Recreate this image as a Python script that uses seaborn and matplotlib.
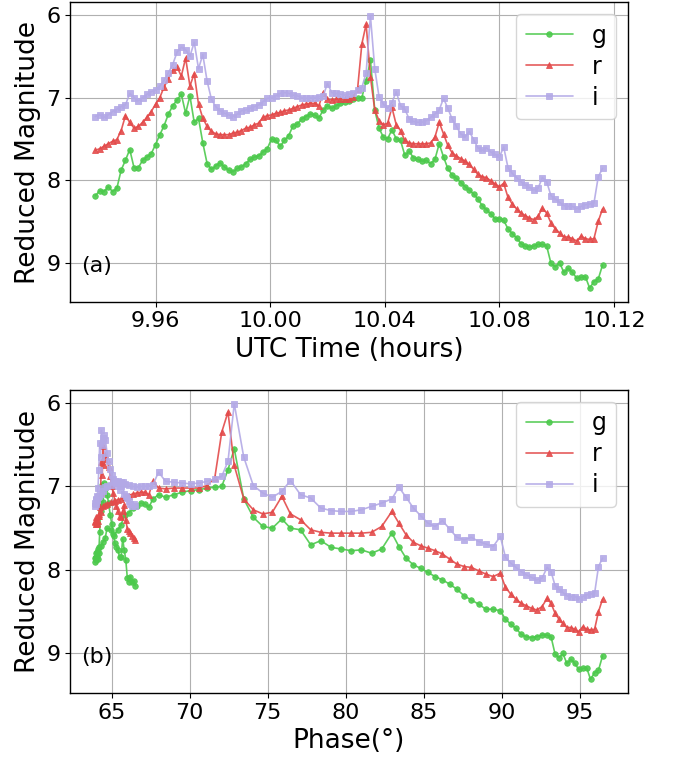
import matplotlib
matplotlib.use("Agg")
import matplotlib.pyplot as plt
import seaborn as sns
import pandas as pd
from matplotlib.ticker import FormatStrFormatter

sns.set_style("ticks")
plt.rcParams["font.family"] = ["DejaVu Sans"]
plt.rcParams["text.color"] = "black"
plt.rcParams["axes.labelcolor"] = "black"
plt.rcParams["xtick.color"] = "black"
plt.rcParams["ytick.color"] = "black"
plt.rcParams["axes.edgecolor"] = "black"

# UTC time (hours)
time_h = [
    9.9390, 9.9405, 9.9420, 9.9435, 9.9450, 9.9465, 9.9480, 9.9495, 9.9510, 9.9525,
    9.9540, 9.9555, 9.9570, 9.9585, 9.9600, 9.9615, 9.9630, 9.9645, 9.9660, 9.9675,
    9.9690, 9.9705, 9.9720, 9.9735, 9.9750, 9.9765, 9.9780, 9.9795, 9.9810, 9.9825,
    9.9840, 9.9855, 9.9870, 9.9885, 9.9900, 9.9915, 9.9930, 9.9945, 9.9960, 9.9975,
    9.9990, 10.0005, 10.0020, 10.0035, 10.0050, 10.0065, 10.0080, 10.0095, 10.0110, 10.0125,
    10.0140, 10.0155, 10.0170, 10.0185, 10.0200, 10.0215, 10.0230, 10.0245, 10.0260, 10.0275,
    10.0290, 10.0305, 10.0320, 10.0335, 10.0350, 10.0365, 10.0380, 10.0395, 10.0410, 10.0425,
    10.0440, 10.0455, 10.0470, 10.0485, 10.0500, 10.0515, 10.0530, 10.0545, 10.0560, 10.0575,
    10.0590, 10.0605, 10.0620, 10.0635, 10.0650, 10.0665, 10.0680, 10.0695, 10.0710, 10.0725,
    10.0740, 10.0755, 10.0770, 10.0785, 10.0800, 10.0815, 10.0830, 10.0845, 10.0860, 10.0875,
    10.0890, 10.0905, 10.0920, 10.0935, 10.0950, 10.0965, 10.0980, 10.0995, 10.1010, 10.1025,
    10.1040, 10.1055, 10.1070, 10.1085, 10.1100, 10.1115, 10.1130, 10.1145, 10.1160,
]

# Phase angle (deg) at each time
phase_deg = [
    66.50, 66.40, 66.30, 66.20, 66.10, 66.00, 65.90, 65.80, 65.70, 65.60,
    65.50, 65.40, 65.30, 65.20, 65.10, 65.00, 64.90, 64.80, 64.70, 64.60,
    64.50, 64.45, 64.39, 64.34, 64.28, 64.23, 64.17, 64.12, 64.07, 64.03,
    64.00, 63.97, 63.95, 63.95, 63.97, 64.02, 64.10, 64.20, 64.32, 64.45,
    64.58, 64.70, 64.93, 65.15, 65.38, 65.60, 65.82, 66.08, 66.34, 66.60,
    66.86, 67.12, 67.38, 67.64, 68.00, 68.45, 68.98, 69.51, 70.05, 70.58,
    71.11, 71.60, 72.05, 72.45, 72.85, 73.46, 74.07, 74.68, 75.29, 75.90,
    76.45, 77.10, 77.75, 78.40, 79.05, 79.70, 80.35, 81.00, 81.65, 82.30,
    82.95, 83.40, 83.86, 84.33, 84.79, 85.26, 85.72, 86.19, 86.65, 87.11,
    87.58, 88.04, 88.51, 88.97, 89.44, 89.90, 90.23, 90.57, 90.90, 91.23,
    91.57, 91.90, 92.23, 92.57, 92.90, 93.15, 93.41, 93.66, 93.91, 94.16,
    94.42, 94.67, 94.92, 95.18, 95.43, 95.68, 95.94, 96.19, 96.45,
]

g_mag = [
    8.19, 8.13, 8.14, 8.08, 8.14, 8.10, 7.88, 7.76, 7.63, 7.85,
    7.85, 7.76, 7.72, 7.68, 7.57, 7.45, 7.34, 7.20, 7.10, 7.03,
    6.96, 7.19, 6.98, 7.30, 7.25, 7.55, 7.80, 7.87, 7.83, 7.79,
    7.84, 7.88, 7.90, 7.86, 7.84, 7.80, 7.75, 7.72, 7.71, 7.66,
    7.62, 7.50, 7.52, 7.59, 7.52, 7.46, 7.34, 7.32, 7.26, 7.23,
    7.20, 7.21, 7.25, 7.15, 7.10, 7.13, 7.10, 7.07, 7.05, 7.04,
    7.02, 7.01, 7.00, 6.80, 6.55, 7.15, 7.37, 7.48, 7.50, 7.39,
    7.50, 7.52, 7.70, 7.65, 7.73, 7.75, 7.77, 7.76, 7.80, 7.75,
    7.56, 7.72, 7.86, 7.94, 7.98, 8.03, 8.08, 8.12, 8.17, 8.23,
    8.31, 8.36, 8.41, 8.47, 8.47, 8.49, 8.59, 8.65, 8.70, 8.77,
    8.80, 8.81, 8.80, 8.78, 8.78, 8.80, 9.01, 9.05, 9.00, 9.12,
    9.07, 9.12, 9.19, 9.18, 9.17, 9.31, 9.23, 9.20, 9.03,
]

r_mag = [
    7.64, 7.62, 7.59, 7.56, 7.53, 7.51, 7.40, 7.22, 7.30, 7.37,
    7.35, 7.30, 7.24, 7.17, 7.08, 7.00, 6.87, 6.77, 6.67, 6.63,
    6.74, 6.52, 6.86, 6.71, 7.08, 7.25, 7.35, 7.41, 7.44, 7.45,
    7.45, 7.45, 7.43, 7.42, 7.40, 7.37, 7.36, 7.33, 7.31, 7.24,
    7.22, 7.21, 7.19, 7.18, 7.16, 7.15, 7.13, 7.11, 7.09, 7.08,
    7.07, 7.07, 7.10, 6.94, 7.02, 7.03, 7.02, 7.02, 7.02, 7.02,
    6.99, 6.90, 6.35, 6.11, 6.75, 7.15, 7.28, 7.33, 7.31, 7.12,
    7.33, 7.40, 7.52, 7.55, 7.56, 7.56, 7.56, 7.56, 7.55, 7.48,
    7.30, 7.44, 7.58, 7.67, 7.71, 7.74, 7.77, 7.81, 7.87, 7.93,
    7.96, 7.97, 8.01, 8.05, 8.08, 8.04, 8.21, 8.29, 8.35, 8.40,
    8.43, 8.46, 8.48, 8.44, 8.34, 8.40, 8.52, 8.59, 8.64, 8.69,
    8.69, 8.71, 8.74, 8.68, 8.71, 8.72, 8.71, 8.50, 8.35,
]

i_mag = [
    7.23, 7.21, 7.24, 7.21, 7.17, 7.14, 7.11, 7.09, 6.95, 7.00,
    7.04, 7.00, 6.96, 6.93, 6.91, 6.86, 6.79, 6.70, 6.60, 6.45,
    6.39, 6.42, 6.50, 6.33, 6.65, 6.48, 6.80, 7.02, 7.11, 7.16,
    7.19, 7.21, 7.23, 7.20, 7.16, 7.15, 7.13, 7.11, 7.09, 7.05,
    7.01, 7.00, 6.98, 6.95, 6.94, 6.95, 6.97, 6.98, 7.00, 7.01,
    7.00, 7.00, 6.99, 6.98, 6.83, 6.94, 6.95, 6.96, 6.97, 6.96,
    6.94, 6.91, 6.88, 6.70, 6.01, 6.65, 6.99, 7.08, 7.13, 7.06,
    6.93, 7.10, 7.14, 7.26, 7.29, 7.30, 7.30, 7.28, 7.24, 7.20,
    7.15, 7.01, 7.13, 7.26, 7.35, 7.44, 7.48, 7.41, 7.51, 7.61,
    7.64, 7.61, 7.66, 7.69, 7.72, 7.60, 7.85, 7.92, 7.97, 8.02,
    8.06, 8.09, 8.12, 8.10, 7.97, 8.02, 8.19, 8.23, 8.27, 8.31,
    8.32, 8.32, 8.35, 8.32, 8.30, 8.29, 8.28, 7.96, 7.86,
]

bands = ["g", "r", "i"]
band_mags = [g_mag, r_mag, i_mag]
band_colors = ["#4cc94c", "#e34a4a", "#b3a9e6"]
band_markers = ["o", "^", "s"]

y_ticks = [6, 7, 8, 9]
x_ticks_a = [9.96, 10.00, 10.04, 10.08, 10.12]
x_ticks_b = [65, 70, 75, 80, 85, 90, 95]

frames = []
for b, m in zip(bands, band_mags):
    frames.append(pd.DataFrame({"time": time_h, "phase": phase_deg, "mag": m, "band": b}))
df = pd.concat(frames, ignore_index=True)

fig = plt.figure(figsize=(6.73, 7.60), dpi=100)
ax_a = fig.add_axes([0.104, 0.603, 0.829, 0.394])
ax_b = fig.add_axes([0.104, 0.088, 0.829, 0.399])

for ax, xcol in [(ax_a, "time"), (ax_b, "phase")]:
    for b, c, mk in zip(bands, band_colors, band_markers):
        sub = df[df["band"] == b]
        sns.lineplot(data=sub, x=xcol, y="mag", ax=ax, sort=False, estimator=None,
                     color=c, marker=mk, markersize=4.0, markeredgewidth=0.6,
                     markeredgecolor=c, linewidth=1.2, alpha=0.9, label=b)
    ax.invert_yaxis()
    ax.set_yticks(y_ticks)
    ax.grid(True, color="#b0b0b0", linewidth=0.8)
    ax.tick_params(labelsize=16, colors="black")
    ax.set_ylabel("Reduced Magnitude", fontsize=19, color="black")
    for s in ax.spines.values():
        s.set_linewidth(1.0)
        s.set_color("black")
    leg = ax.legend(loc="upper right", fontsize=17, frameon=True, labelspacing=0.3,
                    handlelength=2.0, borderpad=0.4)
    leg.get_frame().set_edgecolor("#cccccc")
    for t in leg.get_texts():
        t.set_color("black")

ax_a.set_xticks(x_ticks_a)
ax_a.xaxis.set_major_formatter(FormatStrFormatter("%.2f"))
ax_a.set_xlabel("UTC Time (hours)", fontsize=19, color="black")
ax_b.set_xticks(x_ticks_b)
ax_b.set_xlabel("Phase(°)", fontsize=19, color="black")

ax_a.text(0.02, 0.12, "(a)", transform=ax_a.transAxes, fontsize=16, va="center", ha="left", color="black")
ax_b.text(0.02, 0.12, "(b)", transform=ax_b.transAxes, fontsize=16, va="center", ha="left", color="black")

fig.savefig("out.png", dpi=100)
